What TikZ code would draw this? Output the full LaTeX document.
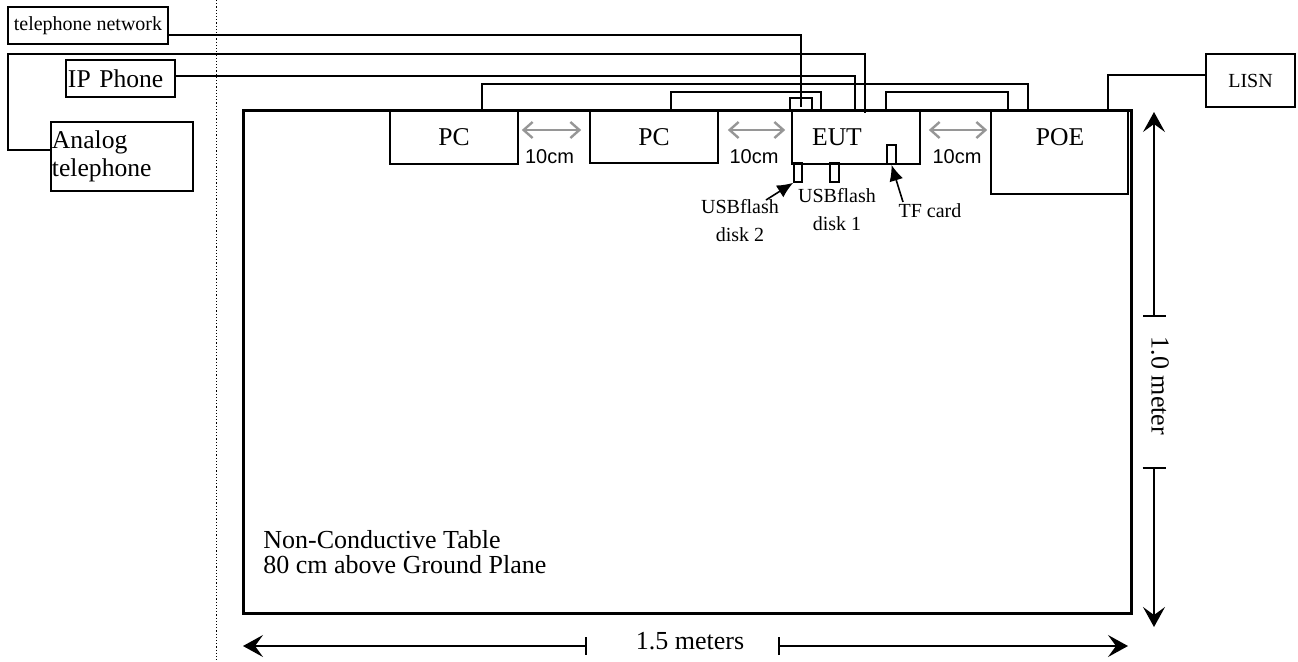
\documentclass[tikz,border=0pt]{standalone}
\usepackage{fontspec}
\setmainfont{Liberation Serif}
\newfontfamily\arialfont{Liberation Sans}
\usetikzlibrary{arrows.meta}
\definecolor{gapgray}{RGB}{150,150,150}
\begin{document}
\begin{tikzpicture}[x=0.5pt,y=-0.5pt,
  box/.style={draw, line width=0.8pt, inner sep=0pt, font=\fontsize{12.8}{14}\selectfont},
  small/.style={font=\fontsize{10}{14}\selectfont, inner sep=0pt},
  big/.style={font=\fontsize{13}{12.5}\selectfont, inner sep=0pt},
  cable/.style={line width=0.7pt},
  gap/.style={draw=gapgray, line width=1.2pt, {Straight Barb[length=4.5pt,width=8pt]}-{Straight Barb[length=4.5pt,width=8pt]}},
  pointer/.style={line width=0.8pt, -{Latex[length=8pt,width=7pt]}},
  dimv/.style={line width=0.8pt, {Bar[width=11.5pt]}-{Stealth[length=10pt,width=11pt,inset=4pt]}},
  dimh/.style={line width=0.8pt, {Bar[width=9pt]}-{Stealth[length=10pt,width=11pt,inset=4pt]}},
  cmlabel/.style={font=\arialfont\fontsize{10}{12}\selectfont, inner sep=0pt, anchor=base}]
\useasboundingbox (0,0) rectangle (1298,661);

% dotted separator
\draw[line width=0.4pt, dash pattern=on 0.6pt off 1pt] (216,0) -- (216,661);

% table
\node[draw, line width=1.5pt, minimum width=444pt, minimum height=251.5pt, inner sep=0pt] (table) at (687,361.5) {};
\node[big, anchor=base west, align=left] (tabletext) at (263,573) {Non-Conductive Table\\80 cm above Ground Plane};

% outside equipment
\node[box, minimum width=80pt, minimum height=18.5pt, font=\fontsize{10}{12}\selectfont] (telnet) at (88,25.5) {telephone network};
\node[box, minimum width=54.5pt, minimum height=18.5pt, text width=52.5pt, align=left] (ipphone) at (120.5,78.5) {IP Phone};
\node[box, minimum width=71pt, minimum height=34.5pt, text width=70pt, align=left] (analog) at (122,156.5) {Analog\\telephone};
\node[box, minimum width=44.5pt, minimum height=26.5pt, font=\fontsize{10}{12}\selectfont] (lisn) at (1250.5,80.5) {LISN};

% equipment on table
\node[box, minimum width=64pt, minimum height=26.5pt] (pc1) at (454,137.5) {PC};
\node[box, minimum width=64pt, minimum height=26pt] (pc2) at (654,137) {PC};
\node[box, minimum width=64pt, minimum height=26.5pt] (eut) at (856,137.5) {};
\node[font=\fontsize{12.8}{14}\selectfont, inner sep=0pt] (euttext) at (837,137.5) {EUT};
\node[box, minimum width=68.5pt, minimum height=42pt] (poe) at (1059.5,152) {};
\node[font=\fontsize{12.8}{14}\selectfont, inner sep=0pt] (poetext) at (1060,137.5) {POE};

% ports
\node[box, minimum width=11pt, minimum height=6pt] (rj) at (801,104) {};
\node[box, minimum width=4pt, minimum height=9.5pt] (usb2) at (798,172.5) {};
\node[box, minimum width=4.5pt, minimum height=9.5pt] (usb1) at (834.5,172.5) {};
\node[box, minimum width=4.5pt, minimum height=9.5pt] (tf) at (891.5,154.5) {};

% port labels
\node[small, align=center, anchor=base] (usb2lbl) at (740,241) {USBflash\\disk 2};
\node[small, align=center, anchor=base] (usb1lbl) at (837,230) {USBflash\\disk 1};
\node[small, anchor=base] (tflbl) at (930,217) {TF card};
\coordinate (usb2tail) at (766,200);
\coordinate (tftail) at (903,202);
\draw[pointer] (usb2tail) -- (usb2.south west);
\draw[pointer] (tftail) -- (tf.south);

% cables
\draw[cable] (telnet.east |- 0,35) -| ([yshift=-1.5pt]rj.center);
\draw[cable] (analog.west |- 0,150) -| (8,54) -| ([yshift=-1.5pt]eut.north -| 865,0);
\draw[cable] (ipphone.east |- 0,76) -| (eut.north -| 855,0);
\draw[cable] (pc1.north -| 482,0) |- (1028,84) -- (poe.north -| 1028,0);
\draw[cable] (pc2.north -| 671,0) |- (821,92) -- (eut.north -| 821,0);
\draw[cable] (eut.north -| 886,0) |- (1008,92) -- (poe.north -| 1008,0);
\draw[cable] (lisn.west |- 0,75) -| (poe.north -| 1108,0);

% 10 cm gaps
\draw[gap] ([xshift=1.5pt,yshift=3.75pt]pc1.east) -- ([xshift=-4pt,yshift=3.5pt]pc2.west);
\draw[gap] ([xshift=4.5pt,yshift=3.5pt]pc2.east) -- ([xshift=-3pt,yshift=3.75pt]eut.west);
\draw[gap] ([xshift=4pt,yshift=3.75pt]eut.east) -- ([xshift=-1.5pt,yshift=11pt]poe.west);
\node[cmlabel] (cm1) at (549.5,163) {10cm};
\node[cmlabel] (cm2) at (754,163) {10cm};
\node[cmlabel] (cm3) at (957,163) {10cm};

% dimensions
\coordinate (vtop) at (1154,112);
\coordinate (vtick1) at (1154,317);
\coordinate (vtick2) at (1154,467);
\coordinate (vbot) at (1154,627);
\draw[dimv] (vtick1) -- (vtop);
\draw[dimv] (vtick2) -- (vbot);
\node[big, rotate=-90] (vlabel) at (1160,386) {1.0 meter};

\coordinate (hleft) at (243,646);
\coordinate (htick1) at (587,646);
\coordinate (htick2) at (778,646);
\coordinate (hright) at (1128,646);
\draw[dimh] (htick1) -- (hleft);
\draw[dimh] (htick2) -- (hright);
\node[big, anchor=base] (hlabel) at (690,649) {1.5 meters};
\end{tikzpicture}
\end{document}
